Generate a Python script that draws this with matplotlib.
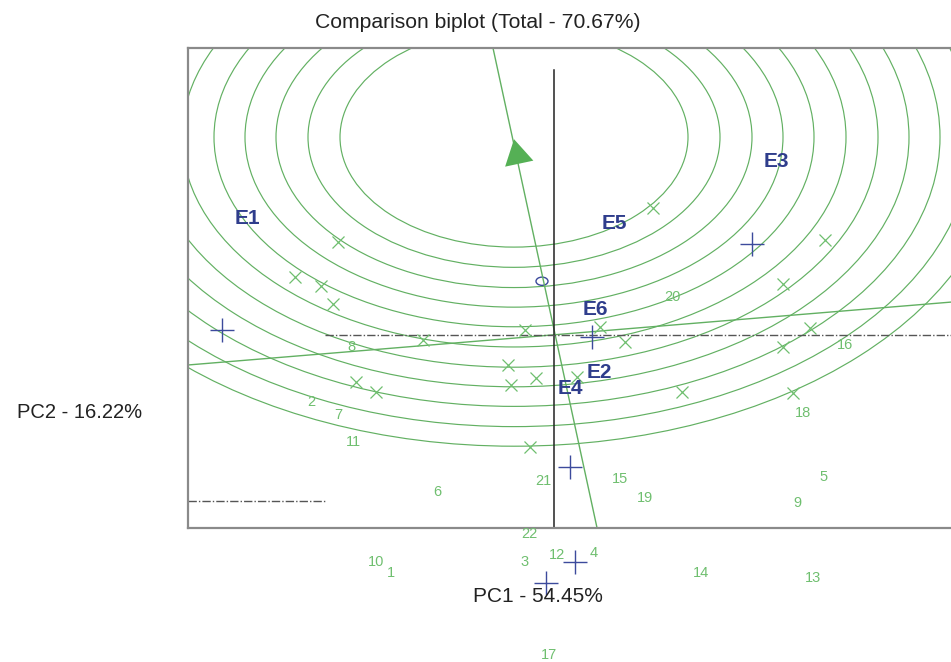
import matplotlib
matplotlib.use('Agg')
import matplotlib.pyplot as plt
from matplotlib.patches import Circle, Ellipse
import numpy as np

plt.rcParams['font.family'] = ['Liberation Sans', 'DejaVu Sans']

# genotype markers (PC1, PC2)
gen_x = [-2.16, -2.59, -2.33, -2.21, -1.31, -0.29, -1.98, -1.78, -0.46, -0.43, -0.18,
         -0.24, 0.99, 2.71, 2.29, 0.46, 0.71, 2.56, 2.29, 1.28, 2.39, 0.23]
gen_y = [1.47, 0.92, 0.78, 0.49, -0.08, 0.08, -0.74, -0.90, -0.47, -0.79, -0.68,
         -1.77, 2.01, 1.50, 0.81, 0.13, -0.11, 0.11, -0.19, -0.90, -0.92, -0.66]

# genotype number labels
gen_labels = [str(i) for i in range(1, 23)]
gen_lx = [-1.63, -2.43, -0.29, 0.40, 2.70, -1.17, -2.16, -2.03, 2.43, -1.78, -2.01,
          0.03, 2.59, 1.47, 0.66, 2.91, -0.05, 2.49, 0.91, 1.18, -0.11, -0.25]
gen_ly = [-3.77, -1.06, -3.59, -3.45, -2.25, -2.48, -1.27, -0.19, -2.66, -3.59, -1.69,
          -3.48, -3.84, -3.77, -2.28, -0.16, -5.06, -1.23, -2.58, 0.60, -2.31, -3.15]

# environment markers and labels
env_x = [-3.32, 1.98, 0.38, 0.16, 0.21, -0.08]
env_y = [0.08, 1.44, -0.03, -2.09, -3.59, -3.92]
env_labels = ['E1', 'E3', 'E5', 'E6', 'E2', 'E4']
env_lx = [-3.07, 2.22, 0.60, 0.41, 0.45, 0.16]
env_ly = [1.84, 2.75, 1.76, 0.40, -0.59, -0.84]

# average environment
avg_env = (-0.12, 0.85)

# ideal genotype and concentric circles
ideal = (-0.40, 3.13)
radii = [1.74, 2.06, 2.38, 2.69, 3.00, 3.32, 3.64, 3.95, 4.26, 4.58, 4.89]

# average environment axis and its perpendicular
aea_x = [-0.61, 0.43]
aea_y = [4.54, -3.05]
perp_x = [-3.66, 3.97]
perp_y = [-0.475, 0.52]
arrow_pos = (-0.37, 2.84)

xlim = (-3.66, 3.97)
ylim = (-3.054, 4.54)

green = '#62b062'
lgreen = '#6fbf6f'
navy = '#2f3d8c'

fig = plt.figure(figsize=(9.51, 6.62), dpi=100)
ax = fig.add_axes([188/951, 1-528/662, 1-188/951, 480/662])
ax.set_xlim(*xlim)
ax.set_ylim(*ylim)
ax.set_xticks([])
ax.set_yticks([])
for s in ['left', 'top', 'bottom']:
    ax.spines[s].set_color('#8a8a8a')
    ax.spines[s].set_linewidth(1.6)
ax.spines['right'].set_visible(False)

for r in radii:
    ax.add_patch(Circle(ideal, r, fill=False, ec=green, lw=0.85))

ax.plot(aea_x, aea_y, color=green, lw=1.0)
ax.plot(perp_x, perp_y, color=green, lw=1.0)
ax.plot([arrow_pos[0]], [arrow_pos[1]], marker=(3, 0, 12), ms=24, color='#55b055', mew=0)

# axes through origin
ax.plot([0, 0], [ylim[0], 4.19], color='#222222', lw=1.1)
ax.plot([-2.29, xlim[1]], [0, 0], color='#555555', lw=1.0, ls=(0, (6, 1.5, 1, 1.5)))
ax.plot([xlim[0], -2.29], [-2.63, -2.63], color='#555555', lw=1.0, ls=(0, (6, 1.5, 1, 1.5)))

ax.plot(gen_x, gen_y, ls='none', marker='x', ms=9, mew=0.9, color=lgreen)
for t, x, y in zip(gen_labels, gen_lx, gen_ly):
    ax.text(x, y, t, color=lgreen, fontsize=10.5, ha='center', va='center', clip_on=False)

ax.plot(env_x, env_y, ls='none', marker='+', ms=17, mew=1.0, color='#3c4a9c', clip_on=False)
for t, x, y in zip(env_labels, env_lx, env_ly):
    ax.text(x, y, t, color=navy, fontsize=15, fontweight='bold', ha='center', va='center')

ax.add_patch(Ellipse(avg_env, 0.12, 0.13, fill=False, ec='#3c4a9c', lw=1.0))

fig.text(478/951, 1-22/662, 'Comparison biplot (Total - 70.67%)', ha='center', va='center',
         fontsize=15.2, color='#222222')
fig.text(538/951, 1-596/662, 'PC1 - 54.45%', ha='center', va='center', fontsize=15, color='#222222')
fig.text(80/951, 1-412/662, 'PC2 - 16.22%', ha='center', va='center', fontsize=14.5, color='#222222')

fig.savefig('out.png', dpi=100)
